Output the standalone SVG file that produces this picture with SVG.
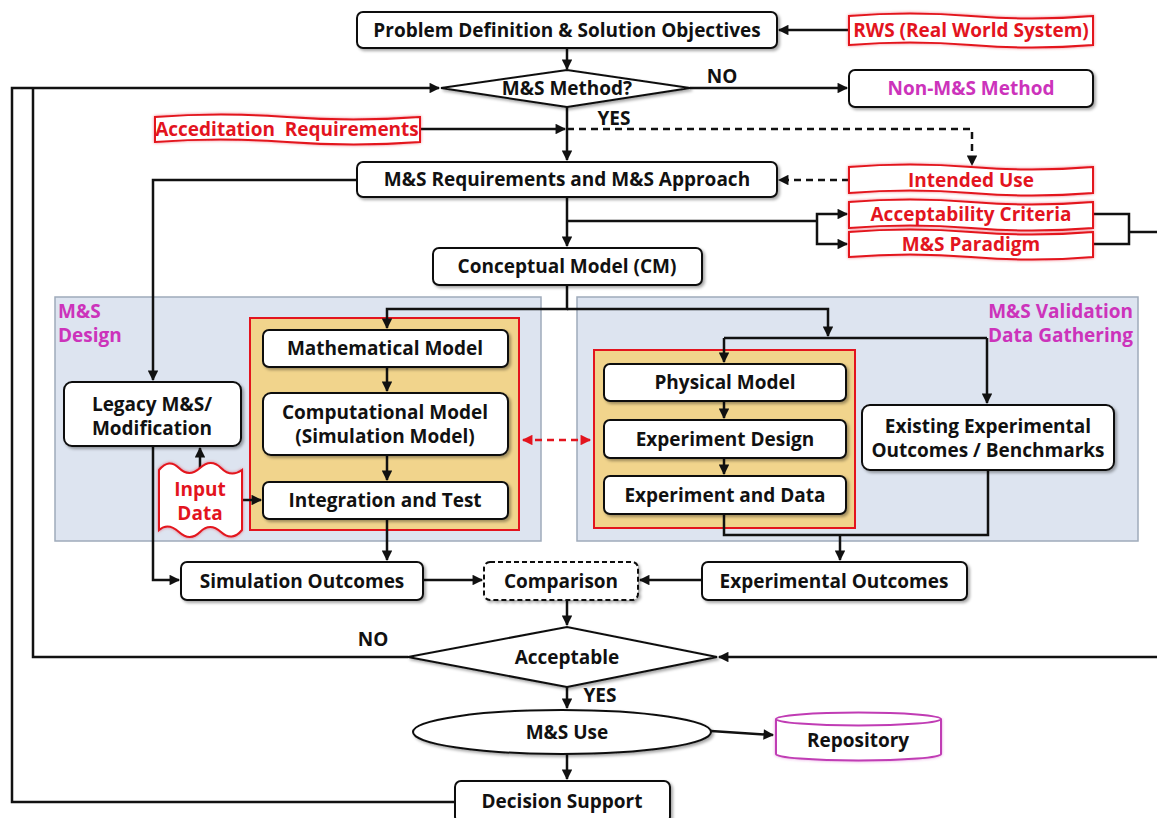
<svg xmlns="http://www.w3.org/2000/svg" width="1157" height="818" viewBox="0 0 1157 818">
<style>
text{font-family:"Open Sans","Noto Sans","Liberation Sans",sans-serif;font-weight:bold;font-size:19px;fill:#111;text-anchor:middle}
.box{fill:#fff;stroke:#111;stroke-width:2;filter:url(#sh)}
.wave{fill:#fff;stroke:#e3141e;stroke-width:2;filter:url(#glow)}
.red{fill:#e3141e}
.mag{fill:#cc33bb}
.ln{fill:none;stroke:#111;stroke-width:2.5}
.arr{fill:none;stroke:#111;stroke-width:2.5;marker-end:url(#ah)}
.dash{stroke-dasharray:7,5}
.panel{fill:#dde4f0;stroke:#9fabbb;stroke-width:1.5}
.frame{fill:#f1d48c;stroke:#e3141e;stroke-width:2}
</style>
<defs>
<marker id="ah" viewBox="0 0 10 10" refX="9" refY="5" markerWidth="4.6" markerHeight="4.2" orient="auto" markerUnits="strokeWidth"><path d="M0,0 L10,5 L0,10 z" fill="#111"/></marker>
<marker id="rah" viewBox="0 0 10 10" refX="9" refY="5" markerWidth="4.6" markerHeight="4.2" orient="auto-start-reverse" markerUnits="strokeWidth"><path d="M0,0 L10,5 L0,10 z" fill="#e3141e"/></marker>
<filter id="sh" x="-10%" y="-20%" width="120%" height="150%"><feDropShadow dx="2" dy="2" stdDeviation="1.5" flood-color="#000" flood-opacity="0.35"/></filter>
<filter id="glow" x="-10%" y="-30%" width="120%" height="160%"><feDropShadow dx="0" dy="0" stdDeviation="1.5" flood-color="#e3141e" flood-opacity="0.5"/></filter>
<filter id="mglow" x="-10%" y="-30%" width="120%" height="160%"><feDropShadow dx="0" dy="0" stdDeviation="1.5" flood-color="#cc33bb" flood-opacity="0.5"/></filter>
</defs>

<g id="panels">
<rect id="design-panel" class="panel" x="55" y="297" width="486" height="244"/>
<text class="mag" x="58" y="318" style="text-anchor:start">M&amp;S</text>
<text class="mag" x="58" y="342" style="text-anchor:start">Design</text>
<rect id="validation-panel" class="panel" x="577" y="297" width="561" height="244"/>
<text class="mag" x="1133" y="318" style="text-anchor:end">M&amp;S Validation</text>
<text class="mag" x="1133" y="342" style="text-anchor:end">Data Gathering</text>
<rect class="frame" x="250" y="318" width="269" height="212"/>
<rect class="frame" x="594" y="350" width="261" height="178"/>
</g>

<g id="connectors">
<path class="arr" d="M849,30 H779"/>
<path class="arr" d="M567,48 V69"/>
<path class="arr" d="M690,88 H847"/>
<path class="arr" d="M455,802 H12 V88 H439"/>
<path class="ln" d="M408,657 H33 V88"/>
<path class="arr" d="M420,129 H565"/>
<path class="arr dash" d="M567,129 H972 V165"/>
<path class="arr" d="M567,107 V160"/>
<path class="arr dash" d="M849,180 H779"/>
<path class="arr" d="M567,197 V246"/>
<path class="ln" d="M567,221 H817"/>
<path class="arr" d="M817,221 V214 H847"/>
<path class="arr" d="M817,221 V244 H847"/>
<path class="ln" d="M1093,214 H1129 V244 H1093 M1129,232 H1157"/>
<path class="arr" d="M1157,657 H719"/>
<path class="arr" d="M357,180 H153 V380"/>
<path class="arr" d="M567,285 V309 H387 V328"/>
<path class="arr" d="M567,309 H828 V336"/>
<path class="ln" d="M724,338 H987"/>
<path class="arr" d="M724,338 V362"/>
<path class="arr" d="M987,338 V403"/>
<path class="arr" d="M387,367 V391"/>
<path class="arr" d="M387,455 V480"/>
<path class="arr" d="M200,470 V448"/>
<path class="arr" d="M242,500 H261"/>
<path class="arr" d="M153,446 V580 H179"/>
<path class="arr" d="M387,519 V560"/>
<path class="arr" d="M423,580 H482"/>
<path class="arr" d="M702,580 H640"/>
<path class="arr" d="M724,401 V418"/>
<path class="arr" d="M724,458 V474"/>
<path class="ln" d="M724,514 V535 H988 V470"/>
<path class="arr" d="M840,535 V560"/>
<path d="M523,440 H590" fill="none" stroke="#e3141e" stroke-width="2.5" stroke-dasharray="7,5" marker-start="url(#rah)" marker-end="url(#rah)"/>
<path class="arr" d="M567,600 V625"/>
<path class="arr" d="M567,687 V708"/>
<path class="arr" d="M711,731 L773,735"/>
<path class="arr" d="M567,754 V779"/>
<text x="722" y="83">NO</text>
<text x="614" y="125">YES</text>
<text x="373" y="646">NO</text>
<text x="600" y="702">YES</text>
</g>

<g id="problem"><rect class="box" x="357" y="12" width="420" height="36" rx="6"/><text x="567" y="37">Problem Definition &amp; Solution Objectives</text></g>
<g id="rws"><path class="wave" d="M849,16 Q910,11 971,16 T1093,16 V45 Q1032,50 971,45 T849,45 Z"/><text class="red" x="971" y="37">RWS (Real World System)</text></g>
<g id="ms-method"><polygon class="box" points="441,88 567,70 690,88 567,107"/><text x="567" y="95">M&amp;S Method?</text></g>
<g id="non-ms"><rect class="box" x="849" y="70" width="244" height="37" rx="6"/><text class="mag" x="971" y="95">Non-M&amp;S Method</text></g>
<g id="accreditation"><path class="wave" d="M155,117 Q221,112 287,117 T420,117 V142 Q354,147 287,142 T155,142 Z"/><text class="red" x="287" y="136" xml:space="preserve">Acceditation  Requirements</text></g>
<g id="ms-req"><rect class="box" x="357" y="162" width="420" height="35" rx="6"/><text x="567" y="186">M&amp;S Requirements and M&amp;S Approach</text></g>
<g id="intended-use"><path class="wave" d="M849,167 Q910,162 971,167 T1093,167 V193 Q1032,198 971,193 T849,193 Z"/><text class="red" x="971" y="187">Intended Use</text></g>
<g id="acceptability"><path class="wave" d="M849,202 Q910,197 971,202 T1093,202 V228 Q1032,233 971,228 T849,228 Z"/><text class="red" x="971" y="221">Acceptability Criteria</text></g>
<g id="paradigm"><path class="wave" d="M849,232 Q910,227 971,232 T1093,232 V257 Q1032,262 971,257 T849,257 Z"/><text class="red" x="971" y="251">M&amp;S Paradigm</text></g>
<g id="cm"><rect class="box" x="433" y="248" width="269" height="37" rx="6"/><text x="567" y="273">Conceptual Model (CM)</text></g>
<g id="math"><rect class="box" x="263" y="330" width="245" height="37" rx="6"/><text x="385" y="355">Mathematical Model</text></g>
<g id="comp"><rect class="box" x="263" y="393" width="245" height="62" rx="8"/><text x="385" y="419">Computational Model</text><text x="385" y="443">(Simulation Model)</text></g>
<g id="integration"><rect class="box" x="263" y="482" width="245" height="37" rx="6"/><text x="385" y="507">Integration and Test</text></g>
<g id="legacy"><rect class="box" x="64" y="382" width="177" height="64" rx="8"/><text x="152" y="411">Legacy M&amp;S/</text><text x="152" y="435">Modification</text></g>
<g id="input-data"><path class="wave" d="M159,470 Q169,458 179,468 T200,468 T221,468 T242,470 V530 Q232,542 221,532 T200,532 T179,532 T159,530 Z"/><text class="red" x="200" y="496">Input</text><text class="red" x="200" y="520">Data</text></g>
<g id="physical"><rect class="box" x="604" y="364" width="242" height="37" rx="6"/><text x="725" y="389">Physical Model</text></g>
<g id="exp-design"><rect class="box" x="604" y="420" width="242" height="38" rx="6"/><text x="725" y="446">Experiment Design</text></g>
<g id="exp-data"><rect class="box" x="604" y="476" width="242" height="38" rx="6"/><text x="725" y="502">Experiment and Data</text></g>
<g id="existing"><rect class="box" x="862" y="405" width="252" height="65" rx="8"/><text x="988" y="433">Existing Experimental</text><text x="988" y="457">Outcomes / Benchmarks</text></g>
<g id="sim-outcomes"><rect class="box" x="181" y="562" width="242" height="38" rx="6"/><text x="302" y="588">Simulation Outcomes</text></g>
<g id="comparison"><rect x="484" y="562" width="154" height="38" rx="6" fill="#fff" stroke="#111" stroke-width="2" stroke-dasharray="5,3" filter="url(#sh)"/><text x="561" y="588">Comparison</text></g>
<g id="exp-outcomes"><rect class="box" x="702" y="562" width="265" height="38" rx="6"/><text x="834" y="588">Experimental Outcomes</text></g>
<g id="acceptable"><polygon class="box" points="408,657 567,627 717,657 567,687"/><text x="567" y="664">Acceptable</text></g>
<g id="ms-use"><ellipse class="box" cx="562" cy="732" rx="149" ry="22"/><text x="567" y="739">M&amp;S Use</text></g>
<g id="repository"><path d="M776,719 V754 A82.5,6.5 0 0 0 941,754 V719" fill="#fff" stroke="#c03cb4" stroke-width="2" filter="url(#mglow)"/><ellipse cx="858.5" cy="719" rx="82.5" ry="6.5" fill="#fff" stroke="#c03cb4" stroke-width="2"/><text x="858" y="747">Repository</text></g>
<g id="decision"><rect class="box" x="455" y="781" width="215" height="42" rx="6"/><text x="562" y="808">Decision Support</text></g>
</svg>
